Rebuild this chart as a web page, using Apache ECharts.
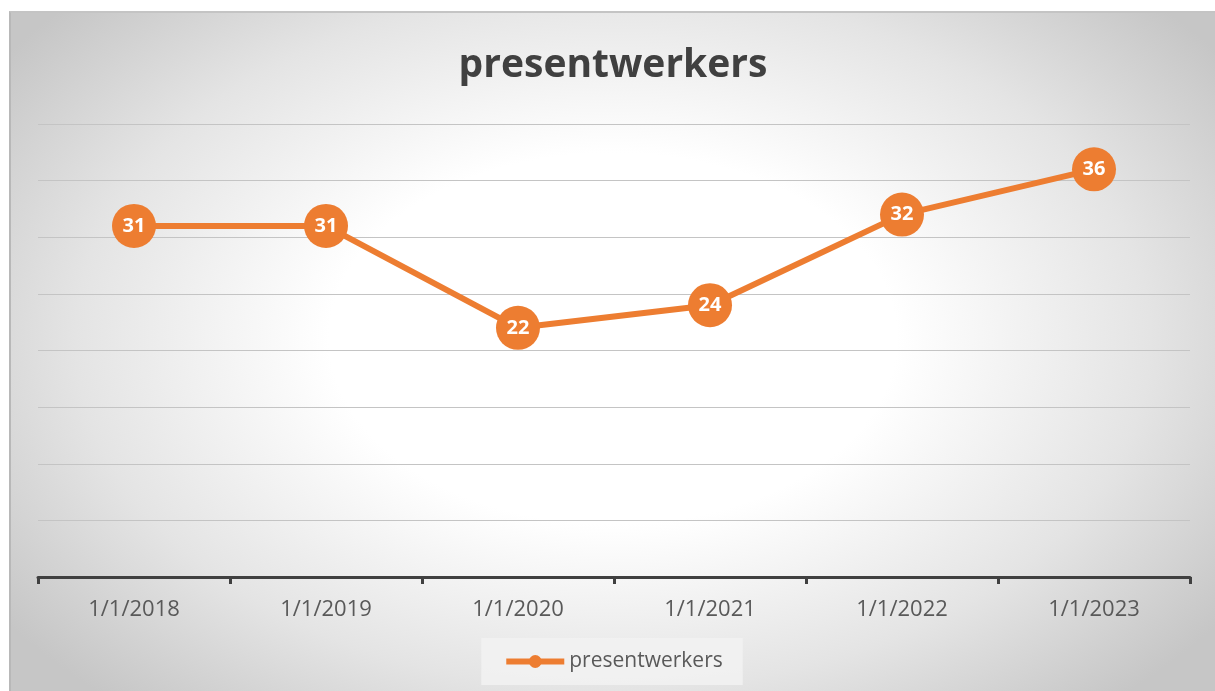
<!DOCTYPE html>
<html>
<head>
<meta charset="utf-8">
<script src="https://cdn.jsdelivr.net/npm/echarts@6/dist/echarts.min.js"></script>
<style>
html,body{margin:0;padding:0;background:#fff;width:1215px;height:691px;overflow:hidden;}
#frame{position:absolute;left:9px;top:11px;width:1206px;height:680px;box-sizing:border-box;
border-left:2px solid #b8b8b8;border-top:2px solid #c4c4c4;
background:radial-gradient(ellipse 62% 72% at 50% 48%, #ffffff 0%, #ffffff 38%, #e4e4e4 72%, #c6c6c6 100%);}
#chart{position:absolute;left:0;top:0;width:1204px;height:678px;}
</style>
</head>
<body>
<div id="frame"><div id="chart"></div></div>
<script>
const categories = ['1/1/2018','1/1/2019','1/1/2020','1/1/2021','1/1/2022','1/1/2023'];
const values = [31, 31, 22, 24, 32, 36];
const seriesName = 'presentwerkers';
const chartTitle = 'presentwerkers';

const chart = echarts.init(document.getElementById('chart'));
const font = "'Open Sans', 'Noto Sans', sans-serif";
chart.setOption({
  backgroundColor: 'transparent',
  animation: false,
  title: {
    text: chartTitle, left: 'center', top: 28,
    textStyle: {fontFamily: font, fontSize: 39, fontWeight: 'bold', color: '#404040'}
  },
  grid: {left: 27, right: 25, top: 111, bottom: 114, containLabel: false},
  legend: {
    bottom: 6, left: 'center',
    backgroundColor: 'rgba(242,242,242,0.85)',
    padding: [13, 20, 13, 22],
    itemWidth: 58, itemHeight: 16, itemGap: 4,
    lineStyle: {width: 6},
    textStyle: {fontFamily: font, fontSize: 21, color: '#595959'},
    data: [seriesName]
  },
  xAxis: {
    type: 'category', data: categories, boundaryGap: true,
    axisLine: {show: true, lineStyle: {color: '#404040', width: 3}},
    axisTick: {show: true, length: 7, lineStyle: {color: '#404040', width: 3}},
    axisLabel: {fontFamily: font, fontSize: 22, color: '#595959', margin: 22},
    splitLine: {show: false}
  },
  yAxis: {
    type: 'value', min: 0, max: 40, interval: 5,
    axisLine: {show: false}, axisTick: {show: false}, axisLabel: {show: false},
    splitLine: {show: true, lineStyle: {color: '#c4c4c4', width: 1}}
  },
  series: [{
    name: seriesName, type: 'line', data: values,
    symbol: 'circle', symbolSize: 44,
    lineStyle: {color: '#ED7D31', width: 6},
    itemStyle: {color: '#ED7D31'},
    label: {show: true, position: 'inside', color: '#ffffff', fontFamily: font, fontSize: 20, fontWeight: 'bold'}
  }]
});
</script>
</body>
</html>
